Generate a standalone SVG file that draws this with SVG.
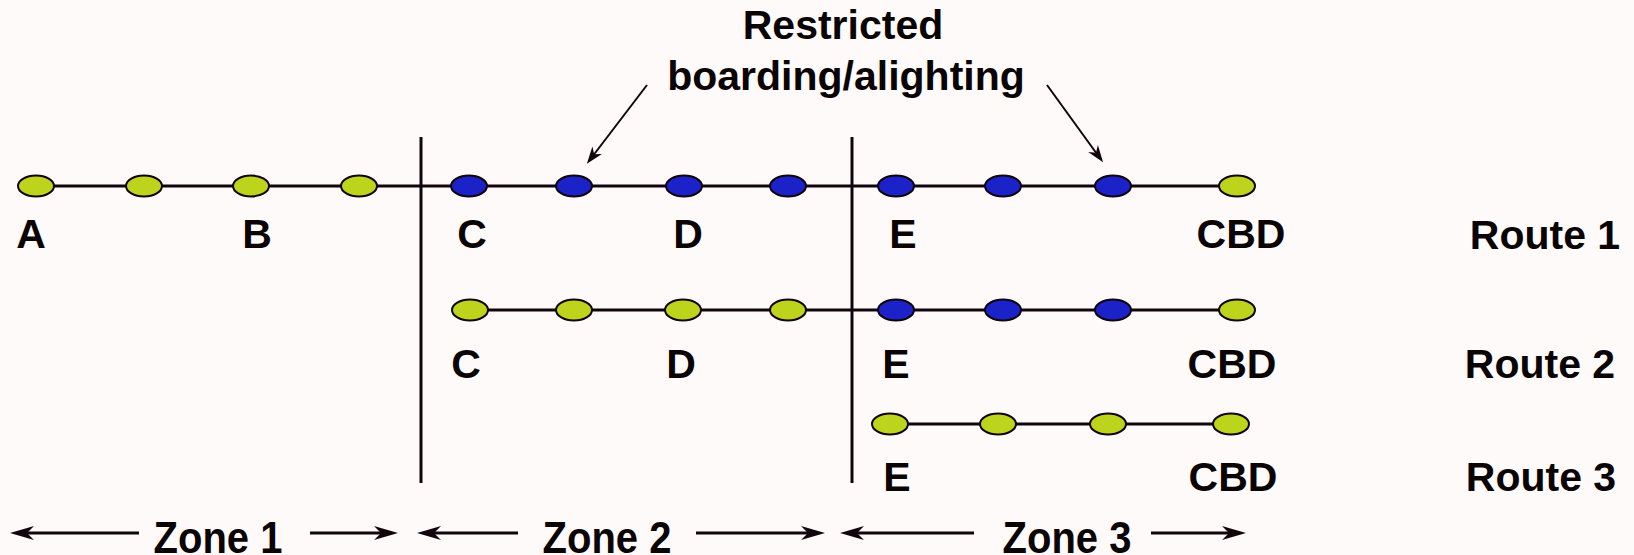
<svg xmlns="http://www.w3.org/2000/svg" width="1634" height="555" viewBox="0 0 1634 555">
  <style>
    .bg { fill: #fefafa; }
    .track { stroke: #12040c; stroke-width: 3; fill: none; }
    .divider { stroke: #12040c; stroke-width: 3; }
    .stop { stroke: #12040c; stroke-width: 2; }
    .open { fill: #bcd41c; }
    .restricted { fill: #1a22c8; }
    .lbl { font-family: "Liberation Sans", Arial, sans-serif; font-weight: bold; font-size: 41px; fill: #0a0405; text-anchor: middle; }
    .zone { font-size: 40px; }
    .zone-arrow { stroke: #12040c; stroke-width: 3; fill: none; marker-end: url(#zoneHead); }
    .note-arrow { stroke: #12040c; stroke-width: 2; fill: none; marker-end: url(#noteHead); }
  </style>
  <defs>
    <marker id="zoneHead" markerUnits="userSpaceOnUse" viewBox="-16 -8 28 16" markerWidth="28" markerHeight="16" refX="0" refY="0" orient="auto">
      <path d="M10,0 L-14,-7 L-7,0 L-14,7 Z" fill="#12040c"/>
    </marker>
    <marker id="noteHead" markerUnits="userSpaceOnUse" viewBox="-12 -7 20 14" markerWidth="20" markerHeight="14" refX="0" refY="0" orient="auto">
      <path d="M6,0 L-11,-6 L-6,0 L-11,6 Z" fill="#12040c"/>
    </marker>
  </defs>

  <rect class="bg" x="0" y="0" width="1634" height="555"/>

  <!-- zone boundaries -->
  <g id="zone-boundaries">
    <line class="divider" x1="421" y1="137" x2="421" y2="483"/>
    <line class="divider" x1="852" y1="137" x2="852" y2="483"/>
  </g>

  <!-- route tracks and connectors -->
  <g id="connectors">
    <line class="track" x1="36" y1="186" x2="1237" y2="186"/>
    <line class="track" x1="470" y1="310" x2="1237" y2="310"/>
    <line class="track" x1="890" y1="424" x2="1231" y2="424"/>
    <!-- annotation pointers -->
    <line class="note-arrow" x1="647" y1="85" x2="590.5" y2="159"/>
    <line class="note-arrow" x1="1047" y1="85" x2="1099.5" y2="157.5"/>
    <!-- zone extents -->
    <line class="zone-arrow" x1="139" y1="533" x2="20" y2="533"/>
    <line class="zone-arrow" x1="310" y1="533" x2="388" y2="533"/>
    <line class="zone-arrow" x1="518" y1="533" x2="427" y2="533"/>
    <line class="zone-arrow" x1="696" y1="533" x2="815" y2="533"/>
    <line class="zone-arrow" x1="974" y1="533" x2="850" y2="533"/>
    <line class="zone-arrow" x1="1151" y1="533" x2="1236" y2="533"/>
  </g>

  <!-- Route 1 stops -->
  <g id="route1-stops">
    <ellipse class="stop open" cx="36" cy="186" rx="18" ry="10.5"/>
    <ellipse class="stop open" cx="144" cy="186" rx="18" ry="10.5"/>
    <ellipse class="stop open" cx="251" cy="186" rx="18" ry="10.5"/>
    <ellipse class="stop open" cx="359" cy="186" rx="18" ry="10.5"/>
    <ellipse class="stop restricted" cx="469" cy="186" rx="18" ry="10.5"/>
    <ellipse class="stop restricted" cx="574" cy="186" rx="18" ry="10.5"/>
    <ellipse class="stop restricted" cx="684" cy="186" rx="18" ry="10.5"/>
    <ellipse class="stop restricted" cx="788" cy="186" rx="18" ry="10.5"/>
    <ellipse class="stop restricted" cx="896" cy="186" rx="18" ry="10.5"/>
    <ellipse class="stop restricted" cx="1003" cy="186" rx="18" ry="10.5"/>
    <ellipse class="stop restricted" cx="1113" cy="186" rx="18" ry="10.5"/>
    <ellipse class="stop open" cx="1237" cy="186" rx="18" ry="10.5"/>
  </g>

  <!-- Route 2 stops -->
  <g id="route2-stops">
    <ellipse class="stop open" cx="470" cy="310" rx="18" ry="10.5"/>
    <ellipse class="stop open" cx="574" cy="310" rx="18" ry="10.5"/>
    <ellipse class="stop open" cx="683" cy="310" rx="18" ry="10.5"/>
    <ellipse class="stop open" cx="788" cy="310" rx="18" ry="10.5"/>
    <ellipse class="stop restricted" cx="896" cy="310" rx="18" ry="10.5"/>
    <ellipse class="stop restricted" cx="1003" cy="310" rx="18" ry="10.5"/>
    <ellipse class="stop restricted" cx="1113" cy="310" rx="18" ry="10.5"/>
    <ellipse class="stop open" cx="1237" cy="310" rx="18" ry="10.5"/>
  </g>

  <!-- Route 3 stops -->
  <g id="route3-stops">
    <ellipse class="stop open" cx="890" cy="424" rx="18" ry="10.5"/>
    <ellipse class="stop open" cx="998" cy="424" rx="18" ry="10.5"/>
    <ellipse class="stop open" cx="1108" cy="424" rx="18" ry="10.5"/>
    <ellipse class="stop open" cx="1231" cy="424" rx="18" ry="10.5"/>
  </g>

  <!-- stop names -->
  <g id="route1-labels">
    <text class="lbl" x="31" y="248">A</text>
    <text class="lbl" x="257" y="248">B</text>
    <text class="lbl" x="472" y="248">C</text>
    <text class="lbl" x="688" y="248">D</text>
    <text class="lbl" x="903" y="248">E</text>
    <text class="lbl" x="1241" y="248">CBD</text>
    <text class="lbl" x="1545" y="249">Route 1</text>
  </g>
  <g id="route2-labels">
    <text class="lbl" x="466" y="378">C</text>
    <text class="lbl" x="681" y="378">D</text>
    <text class="lbl" x="896" y="378">E</text>
    <text class="lbl" x="1232" y="378">CBD</text>
    <text class="lbl" x="1540" y="378">Route 2</text>
  </g>
  <g id="route3-labels">
    <text class="lbl" x="897" y="491">E</text>
    <text class="lbl" x="1233" y="491">CBD</text>
    <text class="lbl" x="1541" y="491">Route 3</text>
  </g>

  <!-- annotation -->
  <g id="restricted-note">
    <text class="lbl" x="843" y="39">Restricted</text>
    <text class="lbl" x="846" y="90">boarding/alighting</text>
  </g>

  <!-- zone names (tall lettering running to the lower edge) -->
  <g id="zone-labels">
    <text class="lbl zone" transform="translate(218,553) scale(1,1.12)">Zone 1</text>
    <text class="lbl zone" transform="translate(607,553) scale(1,1.12)">Zone 2</text>
    <text class="lbl zone" transform="translate(1067,553) scale(1,1.12)">Zone 3</text>
  </g>
</svg>
